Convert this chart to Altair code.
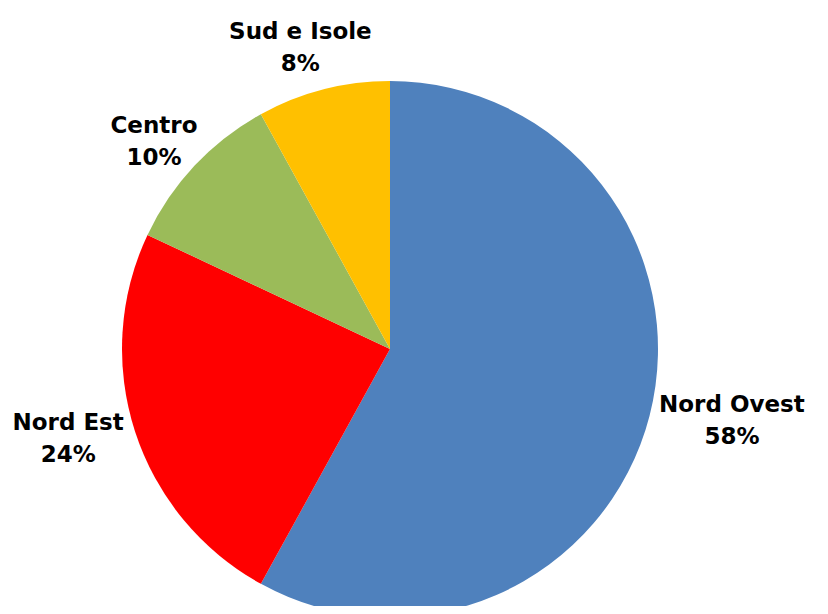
import altair as alt
import pandas as pd

regions = ["Nord Ovest", "Nord Est", "Centro", "Sud e Isole"]
shares = [58, 24, 10, 8]
colors = ["#4F81BD", "#FF0000", "#9BBB59", "#FFC000"]

df = pd.DataFrame({"region": regions, "share": shares, "idx": list(range(len(regions)))})

CX, CY, R = 382, 341, 268
GAP = 12
LH = 32

pie = alt.Chart(df).mark_arc(outerRadius=R, stroke=None).encode(
    theta=alt.Theta("share:Q", stack=True),
    order=alt.Order("idx:Q"),
    x=alt.value(CX),
    y=alt.value(CY),
    color=alt.Color("region:N", scale=alt.Scale(domain=regions, range=colors), legend=None),
)

labels = alt.Chart(df).transform_joinaggregate(
    total="sum(share)"
).transform_window(
    cum="sum(share)", sort=[alt.SortField("idx")]
).transform_calculate(
    mid="(datum.cum - datum.share/2) / datum.total * 2 * PI",
    label="datum.region + '\\n' + datum.share + '%'",
    halfw="length(datum.region) * 7.3",
).transform_calculate(
    px=f"{CX} + {R + GAP} * sin(datum.mid) + sin(datum.mid) * datum.halfw",
    py=f"{CY} - {R + GAP} * cos(datum.mid) - cos(datum.mid) * abs(cos(datum.mid)) * {LH} - {LH / 2}",
).mark_text(
    font="DejaVu Sans", fontSize=23, fontWeight="bold", color="black",
    lineBreak="\n", lineHeight=LH, align="center", baseline="middle",
).encode(
    x=alt.X("px:Q", scale=None),
    y=alt.Y("py:Q", scale=None),
    text="label:N",
)

chart = alt.layer(pie, labels).properties(
    width=812, height=598, padding=0, autosize=alt.AutoSizeParams(type="none")
).configure_view(stroke=None)

chart.save("out.html", embed_options={"renderer": "svg", "actions": False})
